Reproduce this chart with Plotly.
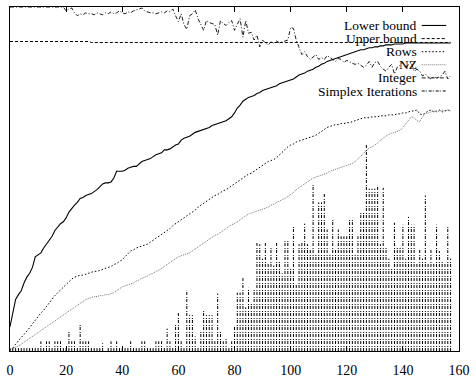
import plotly.graph_objects as go

# ---------------- data (values in plot units, y range 0..354) ----------------
nodes = list(range(158))

lower_bound = [25, 40, 53, 58, 62, 70, 76, 80, 86, 97, 99, 101, 106, 110, 113, 118, 124, 128, 131, 133,
               137, 143, 147, 150, 153, 157, 158, 160, 161, 162, 164, 166, 169, 172, 173, 173, 174, 178, 185, 185,
               185, 186, 188, 189, 190, 190, 193, 195, 196, 197, 198, 200, 202, 203, 204, 207, 207, 208, 210, 212,
               213, 217, 219, 220, 221, 223, 225, 226, 227, 228, 229, 230, 232, 233, 234, 235, 236, 237, 239, 241,
               245, 250, 253, 257, 259, 261, 262, 263, 265, 266, 268, 269, 270, 271, 272, 273, 275, 276, 277, 278,
               279, 280, 282, 284, 285, 286, 288, 289, 290, 292, 293, 295, 296, 298, 299, 300, 301, 302, 303, 304,
               305, 306, 307, 308, 309, 310, 310, 311, 312, 312, 313, 313, 314, 314, 315, 315, 315, 316, 316, 316,
               316, 317, 317, 317, 317, 317, 317, 317, 317, 317, 317, 317, 317, 317, 317, 317, 317, 317]

upper_bound = [318.5] * 29 + [317.5] * 129

rows = [1, 3, 7, 11, 14, 17, 20, 24, 28, 32, 35, 39, 42, 46, 50, 53, 57, 60, 63, 66,
        68, 71, 74, 76, 77, 78, 78, 79, 80, 81, 82, 82, 83, 84, 85, 86, 87, 89, 90, 92,
        94, 97, 100, 103, 104, 106, 107, 108, 109, 110, 112, 114, 116, 118, 120, 122, 124, 126, 129, 131,
        133, 135, 137, 139, 141, 143, 145, 148, 150, 152, 154, 156, 158, 160, 161, 163, 165, 166, 168, 170,
        172, 174, 176, 178, 180, 182, 183, 185, 187, 189, 191, 193, 195, 196, 197, 199, 202, 205, 208, 210,
        212, 213, 215, 216, 217, 218, 219, 220, 221, 222, 224, 226, 228, 230, 231, 232, 233, 233, 234, 234,
        235, 235, 236, 237, 238, 239, 240, 240, 240, 241, 241, 241, 242, 242, 242, 243, 243, 243, 244, 244,
        245, 245, 246, 247, 247, 248, 244, 243, 245, 247, 248, 246, 247, 248, 246, 247, 248, 247]

nz = [1, 2, 4, 5, 7, 9, 11, 13, 15, 17, 19, 21, 23, 25, 27, 29, 31, 33, 35, 37,
      39, 41, 43, 45, 47, 49, 51, 53, 54, 55, 56, 56, 57, 57, 58, 58, 59, 60, 62, 64,
      66, 67, 68, 69, 70, 72, 73, 75, 76, 77, 79, 80, 82, 83, 85, 87, 89, 91, 93, 95,
      97, 98, 99, 100, 101, 103, 105, 107, 109, 111, 113, 115, 117, 119, 120, 122, 124, 126, 128, 130,
      131, 133, 135, 137, 139, 141, 142, 143, 144, 145, 146, 147, 148, 150, 151, 153, 154, 156, 157, 159,
      161, 163, 166, 168, 170, 172, 174, 176, 178, 179, 180, 181, 182, 183, 185, 186, 187, 188, 189, 190,
      191, 192, 193, 195, 198, 201, 204, 207, 209, 210, 212, 214, 217, 219, 221, 223, 224, 225, 226, 227,
      230, 234, 238, 241, 240, 237, 236, 241, 244, 245, 246, 247, 246, 247, 248, 247, 248, 247]

integer = [354] * 20 + [
    350, 352, 353, 348, 345, 347, 346, 348, 347, 347, 346, 348, 347, 346, 348, 347, 349, 347, 348, 350,
    348, 347, 349, 348, 350, 351, 352, 353, 350, 349, 348, 348, 347, 348, 349, 348, 350, 349, 352, 345,
    339, 347, 336, 331, 345, 347, 351, 342, 336, 330, 340, 338, 337, 336, 325, 340, 337, 335, 338, 340,
    330, 337, 342, 323, 340, 327, 328, 320, 325, 313, 320, 317, 315, 318, 317, 319, 317, 318, 319, 320,
    333, 332, 320, 312, 305, 308, 303, 300, 303, 305, 300, 302, 300, 304, 302, 300, 298, 301, 300, 297,
    299, 298, 296, 295, 296, 294, 292, 294, 298, 292, 297, 298, 293, 290, 288, 292, 295, 285, 292, 294,
    297, 291, 295, 297, 288, 290, 288, 283, 285, 282, 280, 282, 281, 282, 284, 288, 280, 283]

simplex_iterations = [
    3, 3, 3, 3, 3, 3, 3, 3, 4, 3, 4, 10, 4, 10, 10, 4, 10, 10, 10, 4,
    4, 20, 10, 10, 4, 27, 10, 10, 10, 4, 3, 3, 3, 8, 0, 3, 10, 3, 10, 3,
    3, 3, 3, 10, 3, 3, 3, 10, 10, 3, 3, 3, 10, 10, 10, 4, 23, 10, 4, 27,
    40, 10, 4, 62, 37, 37, 15, 4, 20, 43, 37, 37, 37, 10, 59, 20, 10, 13, 4, 10,
    25, 60, 60, 75, 45, 65, 50, 63, 112, 110, 95, 112, 90, 107, 88, 112, 93, 80, 115, 115,
    85, 128, 68, 110, 112, 131, 110, 105, 173, 100, 153, 153, 162, 125, 100, 137, 105, 125, 118, 118,
    118, 137, 137, 100, 118, 142, 142, 212, 167, 167, 167, 170, 110, 168, 107, 95, 85, 132, 108, 108,
    130, 95, 138, 130, 130, 90, 105, 95, 160, 90, 105, 90, 130, 103, 93, 90, 128, 95]

x_ticks = [0, 20, 40, 60, 80, 100, 120, 140, 160]
series_names = ["Lower bound", "Upper bound", "Rows", "NZ", "Integer", "Simplex Iterations"]

# ---------------- styles ----------------
FONT = "Liberation Serif"
styles = {
    "Lower bound": dict(color="black", width=1.1, dash="solid"),
    "Upper bound": dict(color="black", width=1, dash="3px,2px"),
    "Rows": dict(color="black", width=1, dash="1.5px,2px"),
    "NZ": dict(color="#777777", width=1, dash="1px,1px"),
    "Integer": dict(color="black", width=0.9, dash="4px,2px,1px,2px"),
    "Simplex Iterations": dict(color="black", width=1, dash="3px,1px,1px,2px"),
}

fig = go.Figure()
for name, ys in [("Lower bound", lower_bound), ("Upper bound", upper_bound),
                 ("Rows", rows), ("NZ", nz), ("Integer", integer)]:
    fig.add_trace(go.Scatter(x=nodes, y=ys, mode="lines", name=name,
                             line=styles[name], showlegend=False, hoverinfo="skip"))

# impulses for simplex iterations
ix, iy = [], []
for xv, hv in zip(nodes, simplex_iterations):
    ix += [xv, xv, None]
    iy += [0, hv, None]
fig.add_trace(go.Scatter(x=ix, y=iy, mode="lines", name="Simplex Iterations",
                         line=styles["Simplex Iterations"], showlegend=False, hoverinfo="skip"))

# ---------------- custom gnuplot-style legend ----------------
leg_text_x = 0.912
leg_s0, leg_s1 = 0.917, 0.9716
leg_y0, leg_dy = 0.9463, 0.0381
for k, name in enumerate(series_names):
    yk = leg_y0 - k * leg_dy
    fig.add_annotation(x=leg_text_x, y=yk, xref="paper", yref="paper", text=name,
                       showarrow=False, xanchor="right", yanchor="middle",
                       font=dict(family=FONT, size=13.5, color="black"))
    st = styles[name]
    fig.add_shape(type="line", xref="paper", yref="paper", x0=leg_s0, x1=leg_s1, y0=yk, y1=yk,
                  line=dict(color=st["color"], width=st["width"], dash=st["dash"]))

fig.update_layout(
    width=476, height=384,
    margin=dict(l=7, r=11, t=6, b=24),
    paper_bgcolor="white", plot_bgcolor="white",
    font=dict(family=FONT, size=14, color="black"),
    showlegend=False,
)
fig.update_xaxes(range=[0, 160], tickvals=x_ticks, ticktext=[str(t) for t in x_ticks],
                 ticks="inside", ticklen=5, tickcolor="black", mirror="allticks",
                 ticklabelstandoff=6,
                 showline=True, linecolor="black", linewidth=1, showgrid=False, zeroline=False,
                 tickfont=dict(family=FONT, size=14, color="black"))
fig.update_yaxes(range=[0, 354], showticklabels=False, ticks="", mirror=True,
                 showline=True, linecolor="black", linewidth=1, showgrid=False, zeroline=False)

fig.write_html("out.html")
